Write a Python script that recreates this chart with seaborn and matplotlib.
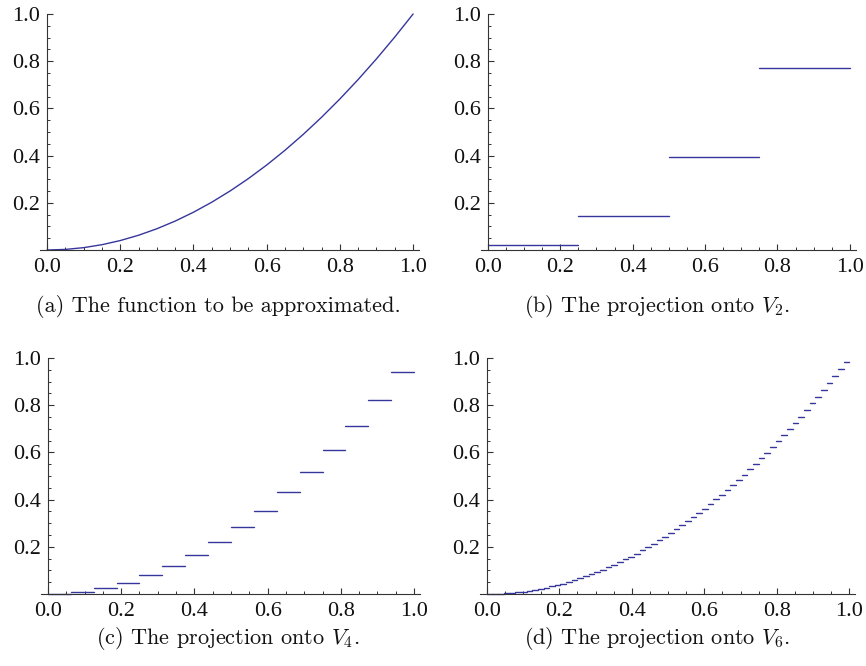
import numpy as np
import pandas as pd
import matplotlib
matplotlib.use("Agg")
import matplotlib.pyplot as plt
import seaborn as sns
from matplotlib.ticker import MultipleLocator

sns.set_theme(style="white")
plt.rcParams["font.family"] = ["Liberation Serif", "DejaVu Serif"]
plt.rcParams["mathtext.fontset"] = "cm"

# ---------------- data ----------------
curve_x = [0.00, 0.05, 0.10, 0.15, 0.20, 0.25, 0.30, 0.35, 0.40, 0.45, 0.50,
           0.55, 0.60, 0.65, 0.70, 0.75, 0.80, 0.85, 0.90, 0.95, 1.00]
curve_y = [0.0000, 0.0025, 0.0100, 0.0225, 0.0400, 0.0625, 0.0900, 0.1225,
           0.1600, 0.2025, 0.2500, 0.3025, 0.3600, 0.4225, 0.4900, 0.5625,
           0.6400, 0.7225, 0.8100, 0.9025, 1.0000]

v2_values = [0.0208, 0.1458, 0.3958, 0.7708]

v4_values = [0.0013, 0.0091, 0.0247, 0.0482, 0.0794, 0.1185, 0.1654, 0.2201,
             0.2826, 0.3529, 0.4310, 0.5169, 0.6107, 0.7122, 0.8216, 0.9388]

v6_values = [0.0001, 0.0006, 0.0015, 0.0030, 0.0050, 0.0074, 0.0103, 0.0138,
             0.0177, 0.0221, 0.0269, 0.0323, 0.0382, 0.0445, 0.0514, 0.0587,
             0.0665, 0.0748, 0.0836, 0.0929, 0.1026, 0.1129, 0.1236, 0.1348,
             0.1466, 0.1588, 0.1715, 0.1847, 0.1983, 0.2125, 0.2271, 0.2423,
             0.2579, 0.2740, 0.2906, 0.3077, 0.3253, 0.3433, 0.3619, 0.3809,
             0.4005, 0.4205, 0.4410, 0.4620, 0.4835, 0.5055, 0.5279, 0.5509,
             0.5743, 0.5982, 0.6226, 0.6475, 0.6729, 0.6988, 0.7252, 0.7520,
             0.7794, 0.8072, 0.8355, 0.8643, 0.8936, 0.9234, 0.9537, 0.9845]

x_ticks = [0.0, 0.2, 0.4, 0.6, 0.8, 1.0]
x_tick_labels = ["0.0", "0.2", "0.4", "0.6", "0.8", "1.0"]
y_ticks = [0.2, 0.4, 0.6, 0.8, 1.0]
y_tick_labels = ["0.2", "0.4", "0.6", "0.8", "1.0"]

captions = ["(a) The function to be approximated.",
            r"(b) The projection onto $V_2$.",
            r"(c) The projection onto $V_4$.",
            r"(d) The projection onto $V_6$."]

LINE = "#36369c"
AXC = "#333333"


def step_frame(values):
    n = len(values)
    edges = np.linspace(0.0, 1.0, n + 1)
    rows = []
    for i, v in enumerate(values):
        rows.append({"x": edges[i], "y": v, "seg": i})
        rows.append({"x": edges[i + 1], "y": v, "seg": i})
    return pd.DataFrame(rows)


def style_axes(ax):
    ax.set_xlim(-0.019, 1.016)
    ax.set_ylim(0.0, 1.0)
    for s in ("top", "right"):
        ax.spines[s].set_visible(False)
    ax.spines["left"].set_position(("data", 0.0))
    ax.spines["bottom"].set_position(("data", 0.0))
    for s in ("left", "bottom"):
        ax.spines[s].set_color(AXC)
        ax.spines[s].set_linewidth(0.8)
    ax.spines["left"].set_bounds(0.0, 1.0)
    ax.set_xticks(x_ticks)
    ax.set_xticklabels(x_tick_labels)
    ax.set_yticks(y_ticks)
    ax.set_yticklabels(y_tick_labels)
    ax.xaxis.set_minor_locator(MultipleLocator(0.05))
    ax.yaxis.set_minor_locator(MultipleLocator(0.05))
    ax.tick_params(which="major", direction="in", length=4.0, width=0.8,
                   color=AXC, labelsize=16, labelcolor="#111111")
    ax.tick_params(which="minor", direction="in", length=2.2, width=0.7,
                   color=AXC)
    ax.tick_params(axis="x", which="major", pad=6)
    ax.tick_params(axis="y", which="major", pad=5)
    ax.tick_params(which="both", bottom=True, left=True, top=False, right=False)
    ax.set_xlabel("")
    ax.set_ylabel("")
    ax.grid(False)
    ax.set_facecolor("white")


fig = plt.figure(figsize=(8.66, 6.66), dpi=100)
H = 0.3544
positions = [(0.0462, 0.6246, 0.4376), (0.5554, 0.6246, 0.4326),
             (0.0473, 0.1081, 0.4376), (0.5543, 0.1081, 0.4330)]
axes = [fig.add_axes([l, b, w, H]) for (l, b, w) in positions]

# (a) the function
df_a = pd.DataFrame({"x": curve_x, "y": curve_y})
sns.lineplot(data=df_a, x="x", y="y", ax=axes[0], color=LINE, lw=1.0,
             estimator=None, sort=False)

# (b)-(d) projections
for ax, vals in zip(axes[1:], [v2_values, v4_values, v6_values]):
    d = step_frame(vals)
    sns.lineplot(data=d, x="x", y="y", units="seg", estimator=None,
                 ax=ax, color=LINE, lw=1.0, sort=False)

for ax in axes:
    for ln in ax.get_lines():
        ln.set_clip_on(False)
    style_axes(ax)

cap_pos = [(218 / 866, 1 - 306 / 666), (657 / 866, 1 - 306 / 666),
           (228 / 866, 1 - 639 / 666), (657 / 866, 1 - 639 / 666)]
for (cx, cy), txt in zip(cap_pos, captions):
    fig.text(cx, cy, txt, ha="center", va="center", fontsize=16,
             family=["cmr10", "DejaVu Serif"], color="#111111")

fig.savefig("out.png", dpi=100, facecolor="white")
